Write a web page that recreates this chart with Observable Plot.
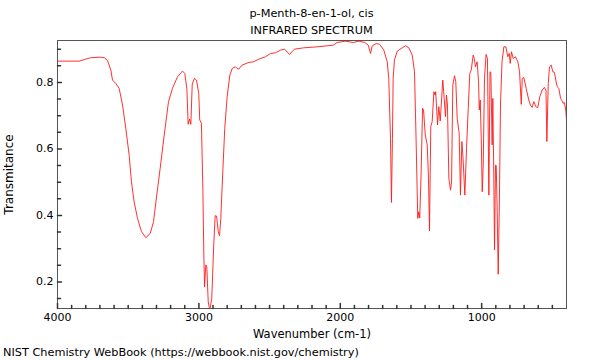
<!DOCTYPE html>
<html>
<head>
<meta charset="utf-8">
<script src="https://cdn.jsdelivr.net/npm/d3@7"></script>
<script src="https://cdn.jsdelivr.net/npm/@observablehq/plot@0.6"></script>
<style>
  html, body { margin: 0; padding: 0; background: #fff; }
  #wrap { position: relative; width: 600px; height: 360px; overflow: hidden; font-family: "DejaVu Sans", sans-serif; color: #000; }
  #title { position: absolute; top: 5px; left: 57px; width: 509px; text-align: center; font-size: 11.3px; line-height: 17px; }
  #chart { position: absolute; top: 0; left: 0; }
  #caption { position: absolute; top: 345px; left: 3px; font-size: 11.3px; line-height: 16px; white-space: nowrap; }
</style>
</head>
<body>
<div id="wrap">
  <div id="title">p-Menth-8-en-1-ol, cis<br>INFRARED SPECTRUM</div>
  <div id="chart"></div>
  <div id="caption">NIST Chemistry WebBook (https://webbook.nist.gov/chemistry)</div>
</div>
<script>
// Spectrum
const wavenumber = [
  4000, 3847, 3800, 3767, 3700, 3668, 3646, 3623, 3611, 3588, 3564, 3540, 3517, 3493, 3477, 3458, 3434, 3406, 3375, 3344,
  3321, 3298, 3274, 3245, 3215, 3187, 3151, 3116, 3100, 3085, 3076, 3066, 3057, 3047, 3031, 3017, 3001, 2994, 2982, 2972,
  2965, 2960, 2951, 2944, 2934, 2923, 2909, 2895, 2885, 2875, 2863, 2854, 2845, 2831, 2817, 2800, 2781, 2764, 2741, 2730,
  2718, 2694, 2647, 2612, 2576, 2529, 2493, 2458, 2423, 2394, 2359, 2324, 2258, 2163, 2093, 2050, 2022, 1963, 1909, 1869,
  1827, 1802, 1786, 1774, 1744, 1720, 1692, 1668, 1657, 1645, 1638, 1631, 1626, 1617, 1597, 1562, 1539, 1515, 1491, 1475,
  1464, 1452, 1444, 1438, 1428, 1418, 1411, 1399, 1385, 1376, 1369, 1360, 1350, 1338, 1329, 1325, 1312, 1303, 1293, 1275,
  1265, 1256, 1249, 1242, 1232, 1220, 1213, 1204, 1192, 1183, 1173, 1159, 1150, 1140, 1133, 1119, 1107, 1095, 1084, 1074,
  1060, 1052, 1044, 1032, 1022, 1017, 1010, 1003, 996, 989, 980, 969, 959, 949, 941, 935, 926, 921, 914, 909,
  902, 897, 890, 883, 874, 867, 856, 843, 829, 815, 805, 798, 789, 777, 761, 744, 732, 720, 713, 702,
  685, 667, 655, 643, 631, 617, 603, 589, 572, 556, 545, 539, 529, 520, 508, 497, 485, 476, 466, 454,
  442, 432, 423, 415, 405, 400
];
const transmittance = [
  0.864, 0.864, 0.870, 0.874, 0.876, 0.874, 0.866, 0.837, 0.807, 0.797, 0.782, 0.732, 0.662, 0.581, 0.501, 0.441, 0.391, 0.351, 0.333, 0.346,
  0.381, 0.461, 0.541, 0.642, 0.742, 0.782, 0.817, 0.834, 0.827, 0.782, 0.674, 0.690, 0.674, 0.795, 0.812, 0.807, 0.767, 0.687, 0.677, 0.481,
  0.281, 0.185, 0.251, 0.245, 0.140, 0.115, 0.150, 0.311, 0.399, 0.398, 0.351, 0.339, 0.391, 0.531, 0.662, 0.757, 0.822, 0.842, 0.847, 0.842,
  0.840, 0.852, 0.860, 0.862, 0.870, 0.877, 0.887, 0.889, 0.897, 0.900, 0.884, 0.900, 0.904, 0.907, 0.910, 0.912, 0.920, 0.924, 0.920, 0.924,
  0.920, 0.912, 0.887, 0.910, 0.917, 0.914, 0.897, 0.862, 0.812, 0.632, 0.439, 0.632, 0.812, 0.867, 0.894, 0.904, 0.910, 0.904, 0.882, 0.832,
  0.632, 0.391, 0.411, 0.392, 0.531, 0.722, 0.717, 0.642, 0.612, 0.511, 0.353, 0.667, 0.682, 0.772, 0.762, 0.772, 0.672, 0.727, 0.684, 0.807,
  0.752, 0.697, 0.762, 0.732, 0.511, 0.476, 0.500, 0.792, 0.820, 0.802, 0.692, 0.647, 0.461, 0.622, 0.582, 0.461, 0.602, 0.722, 0.827, 0.837,
  0.882, 0.872, 0.847, 0.862, 0.802, 0.717, 0.747, 0.632, 0.471, 0.551, 0.812, 0.884, 0.872, 0.461, 0.832, 0.830, 0.612, 0.752, 0.511, 0.296,
  0.551, 0.550, 0.411, 0.223, 0.461, 0.732, 0.862, 0.907, 0.907, 0.877, 0.887, 0.857, 0.892, 0.872, 0.877, 0.862, 0.832, 0.734, 0.812, 0.815,
  0.782, 0.747, 0.732, 0.725, 0.742, 0.727, 0.724, 0.757, 0.777, 0.785, 0.775, 0.622, 0.797, 0.847, 0.852, 0.832, 0.830, 0.807, 0.787, 0.782,
  0.752, 0.745, 0.737, 0.740, 0.717, 0.687
];

// Axis ticks
const xMajorTicks = [4000, 3000, 2000, 1000];
const xMinorTicks = [3900, 3800, 3700, 3600, 3500, 3400, 3300, 3200, 3100, 2900, 2800, 2700, 2600, 2500, 2400, 2300, 2200, 2100,
  1900, 1800, 1700, 1600, 1500, 1400, 1300, 1200, 1100, 900, 800, 700, 600, 500];
const yMajorTicks = [0.2, 0.4, 0.6, 0.8];
const yMinorTicks = [0.15, 0.25, 0.3, 0.35, 0.45, 0.5, 0.55, 0.65, 0.7, 0.75, 0.85, 0.9];

const xDomain = [4000, 400];
const yDomain = [0.12, 0.926];
const xLabel = "Wavenumber (cm-1)";
const yLabel = "Transmitance";

const spectrum = wavenumber.map((w, i) => ({w, t: transmittance[i]}));

const tickShape = {
  draw(context, l) { context.moveTo(0, 0); context.lineTo(0, -l); }
};

const axisColor = "#333";

const chart = Plot.plot({
  width: 600,
  height: 340,
  marginTop: 40,
  marginBottom: 32,
  marginLeft: 57,
  marginRight: 34,
  style: {fontFamily: "DejaVu Sans, sans-serif", fontSize: "11px", color: "#000", background: "transparent"},
  x: {domain: xDomain},
  y: {domain: yDomain},
  marks: [
    Plot.line(spectrum, {x: "w", y: "t", stroke: "#ff1a1a", strokeWidth: 0.9, clip: true}),
    Plot.frame({stroke: "#555", strokeWidth: 1}),
    // inward ticks
    Plot.vector(xMajorTicks, {x: d => d, frameAnchor: "bottom", length: 5, anchor: "start", rotate: 0, shape: tickShape, stroke: axisColor}),
    Plot.vector(xMinorTicks, {x: d => d, frameAnchor: "bottom", length: 3, anchor: "start", rotate: 0, shape: tickShape, stroke: axisColor}),
    Plot.vector(yMajorTicks, {y: d => d, frameAnchor: "left", length: 4, anchor: "start", rotate: 90, shape: tickShape, stroke: axisColor}),
    Plot.vector(yMinorTicks, {y: d => d, frameAnchor: "left", length: 3, anchor: "start", rotate: 90, shape: tickShape, stroke: axisColor}),
    Plot.axisX({ticks: xMajorTicks, tickSize: 0, tickPadding: 5, tickFormat: d => String(d), label: null}),
    Plot.axisY({ticks: yMajorTicks, tickSize: 0, tickPadding: 4, tickFormat: d => d.toFixed(1), label: null}),
    Plot.axisX({ticks: [], tickSize: 0, label: xLabel, labelAnchor: "center", labelArrow: "none", labelOffset: 29, fontSize: 11.5}),
    Plot.axisY({ticks: [], tickSize: 0, label: yLabel, labelAnchor: "center", labelArrow: "none", labelOffset: 53, fontSize: 12})
  ]
});
document.getElementById("chart").appendChild(chart);
</script>
</body>
</html>
